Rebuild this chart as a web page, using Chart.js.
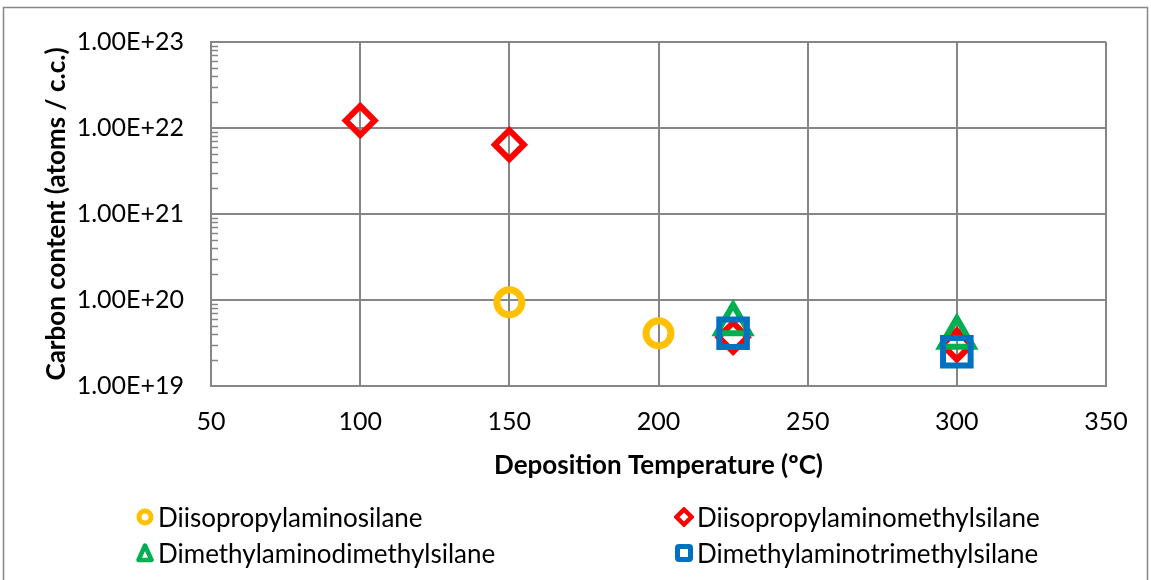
<!DOCTYPE html>
<html>
<head>
<meta charset="utf-8">
<script src="https://cdn.jsdelivr.net/npm/chart.js@4/dist/chart.umd.min.js"></script>
<style>
  body { margin: 0; background: #fff; }
  #wrap { position: relative; width: 1151px; height: 580px; }
  .item { position: absolute; display: flex; align-items: center; font-family: Lato, sans-serif; font-size: 26px; line-height: 30px; color: #000; white-space: nowrap; }
  .item svg { margin-right: 3px; }
</style>
</head>
<body>
<div id="wrap">
  <canvas id="grafico" width="1151" height="580"></canvas>
</div>
<script>
// Datos (temperatura ºC, contenido de carbono atoms/c.c.)
const nombres = ['Diisopropylaminosilane', 'Diisopropylaminomethylsilane', 'Dimethylaminodimethylsilane', 'Dimethylaminotrimethylsilane'];
const tempDIPAS = [150, 200];
const carbonoDIPAS = [9.4e19, 4.1e19];
const tempDIPAMS = [100, 150, 225, 300];
const carbonoDIPAMS = [1.22e22, 6.4e21, 3.7e19, 3.0e19];
const tempDMADMS = [225, 300];
const carbonoDMADMS = [5.3e19, 3.7e19];
const tempDMATMS = [225, 300];
const carbonoDMATMS = [4.1e19, 2.5e19];
const ticksX = [50, 100, 150, 200, 250, 300, 350];
const ticksY = [1e19, 1e20, 1e21, 1e22, 1e23];

// Estilos
const colores = ['#FFC000', '#FF0000', '#00B050', '#0070C0'];
const formas = ['circle', 'rectRot', 'triangle', 'rect'];
const radios = [12.5, 14.5, 19, 19.5];
const bordes = [7, 6, 6, 6];
const gris = '#868686';

const puntos = (xs, ys) => xs.map((x, i) => ({ x: x, y: ys[i] }));
const series = [
  puntos(tempDIPAS, carbonoDIPAS),
  puntos(tempDIPAMS, carbonoDIPAMS),
  puntos(tempDMADMS, carbonoDMADMS),
  puntos(tempDMATMS, carbonoDMATMS),
];

// Marco exterior y marcas menores del eje logarítmico
const extras = {
  id: 'extras',
  beforeDraw(chart) {
    const ctx = chart.ctx;
    ctx.save();
    ctx.fillStyle = '#fff';
    ctx.fillRect(0, 0, chart.width, chart.height);
    ctx.strokeStyle = gris;
    ctx.lineWidth = 1.5;
    ctx.strokeRect(3.5, 7.5, chart.width - 7, chart.height);
    ctx.restore();
  },
  beforeDatasetsDraw(chart) {
    const ctx = chart.ctx;
    const y = chart.scales.y;
    const left = chart.chartArea.left;
    ctx.save();
    ctx.strokeStyle = gris;
    ctx.lineWidth = 1.5;
    ctx.beginPath();
    for (let i = 0; i < ticksY.length - 1; i++) {
      for (let m = 2; m <= 9; m++) {
        const py = Math.round(y.getPixelForValue(ticksY[i] * m)) + 0.5;
        ctx.moveTo(left, py);
        ctx.lineTo(left + 7, py);
      }
    }
    ctx.stroke();
    ctx.restore();
  }
};

const ctx = document.getElementById('grafico').getContext('2d');
new Chart(ctx, {
  type: 'scatter',
  data: {
    datasets: series.map((d, i) => ({
      label: nombres[i],
      data: d,
      order: 3 - i,
      pointStyle: formas[i],
      pointRadius: radios[i],
      pointHoverRadius: radios[i],
      pointBorderWidth: bordes[i],
      pointHoverBorderWidth: bordes[i],
      borderColor: colores[i],
      pointBorderColor: colores[i],
      pointBackgroundColor: 'rgba(0,0,0,0)',
      showLine: false,
    })),
  },
  options: {
    responsive: false,
    animation: false,
    devicePixelRatio: 1,
    layout: { padding: { top: 38, right: 45, bottom: 94, left: 0 } },
    plugins: {
      legend: { display: false },
      tooltip: { enabled: false },
    },
    scales: {
      x: {
        type: 'linear',
        min: 50,
        max: 350,
        afterBuildTicks: s => { s.ticks = ticksX.map(v => ({ value: v })); },
        afterFit: s => { s.height = 100; },
        grid: { color: gris, lineWidth: 2, drawTicks: false },
        border: { color: gris, width: 2 },
        ticks: { padding: 21, color: '#000', maxRotation: 0, font: { family: 'Lato', size: 25 } },
        title: {
          display: true,
          text: 'Deposition Temperature (ºC)',
          color: '#000',
          font: { family: 'Lato', size: 26, weight: 'bold' },
          padding: { top: 0, bottom: 5 },
        },
      },
      y: {
        type: 'logarithmic',
        min: 1e19,
        max: 1e23,
        afterBuildTicks: s => { s.ticks = ticksY.map(v => ({ value: v })); },
        afterFit: s => { s.width = 211; },
        grid: { color: gris, lineWidth: 2, drawTicks: false },
        border: { color: gris, width: 2 },
        ticks: {
          padding: 27,
          color: '#000',
          font: { family: 'Lato', size: 25 },
          callback: v => Number(v).toExponential(2).toUpperCase(),
        },
        title: {
          display: true,
          text: 'Carbon content (atoms / c.c.)',
          color: '#000',
          font: { family: 'Lato', size: 26, weight: 'bold' },
          padding: { top: 41, bottom: 0 },
        },
      },
    },
  },
  plugins: [extras],
});

// Leyenda en dos columnas, como en el original
const posiciones = [[135, 502], [674, 502], [135, 538], [674, 538]];
const iconos = [
  c => `<circle cx="10" cy="10" r="6" fill="none" stroke="${c}" stroke-width="5"/>`,
  c => `<polygon points="10,2.5 17.5,10 10,17.5 2.5,10" fill="none" stroke="${c}" stroke-width="4.5"/>`,
  c => `<polygon points="10,2.5 16.5,17 3.5,17" fill="none" stroke="${c}" stroke-width="4.5" stroke-linejoin="round"/>`,
  c => `<rect x="3.5" y="3.5" width="13" height="13" rx="1.5" fill="none" stroke="${c}" stroke-width="5"/>`,
];
const wrap = document.getElementById('wrap');
nombres.forEach((n, i) => {
  const el = document.createElement('div');
  el.className = 'item';
  el.style.left = posiciones[i][0] + 'px';
  el.style.top = posiciones[i][1] + 'px';
  el.innerHTML = `<svg width="20" height="20" viewBox="0 0 20 20">${iconos[i](colores[i])}</svg><span>${n}</span>`;
  wrap.appendChild(el);
});
</script>
</body>
</html>
